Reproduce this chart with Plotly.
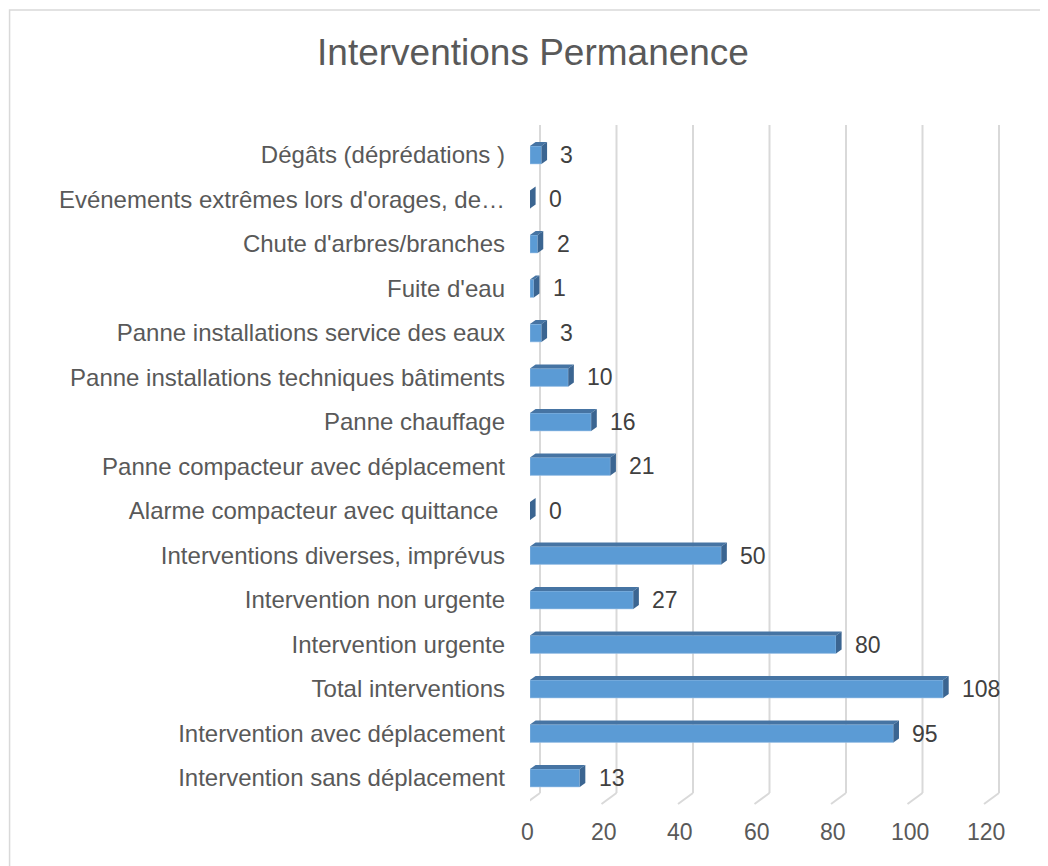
import plotly.graph_objects as go

categories = [
    "Dégâts (déprédations )",
    "Evénements extrêmes lors d'orages, de…",
    "Chute d'arbres/branches",
    "Fuite d'eau",
    "Panne installations service des eaux",
    "Panne installations techniques bâtiments",
    "Panne chauffage",
    "Panne compacteur avec déplacement",
    "Alarme compacteur avec quittance ",
    "Interventions diverses, imprévus",
    "Intervention non urgente",
    "Intervention urgente",
    "Total interventions",
    "Intervention avec déplacement",
    "Intervention sans déplacement",
]
values = [3, 0, 2, 1, 3, 10, 16, 21, 0, 50, 27, 80, 108, 95, 13]
x_ticks = [0, 20, 40, 60, 80, 100, 120]
title = "Interventions Permanence"

# page has an 8px body margin; figure covers the rest of the 1048x866 window
OFF = 8
W, H = 1048 - OFF, 866 - OFF


def px_x(p):
    return (p - OFF) / W


def px_y(p):
    return 1 - (p - OFF) / H


# plot area in window pixels
px_left = 530
ppu = (989 - 530) / 120          # pixels per x unit
xmax = 126                        # a bit of room for the back gridline at 120
px_right = px_left + xmax * ppu
px_top, px_bottom = 132.75, 800.25
ppc = (px_bottom - px_top) / len(categories)

ypos = list(range(len(categories)))
bar_w = 0.4
dx = 5.6 / ppu
dy = 4.0 / ppc

front = "#5b9bd5"
top_c = "#4674a3"
side_c = "#3b6591"
txt = "#404040"
font_family = "Liberation Sans, Arial, sans-serif"

fig = go.Figure()
fig.add_trace(go.Bar(
    y=ypos, x=values, orientation="h", width=bar_w,
    marker=dict(color=front, line=dict(color="#9dc3e6", width=0.6)),
    hoverinfo="x+text", hovertext=categories,
))

shapes = []
back_off = 10 / ppu
floor_off = -5 / ppu
y_grid_top = px_y(125)
y_grid_bot = px_y(793)
y_floor = px_y(804)
for t in x_ticks:
    shapes.append(dict(type="line", xref="x", yref="paper",
                       x0=t + back_off, x1=t + back_off, y0=y_grid_top, y1=y_grid_bot,
                       line=dict(color="#d9d9d9", width=2), layer="below"))
    shapes.append(dict(type="line", xref="x", yref="paper",
                       x0=t + back_off, x1=t + floor_off, y0=y_grid_bot, y1=y_floor,
                       line=dict(color="#d9d9d9", width=2), layer="below"))

for yc, v in zip(ypos, values):
    yt = yc - bar_w / 2
    yb = yc + bar_w / 2
    shapes.append(dict(type="path", xref="x", yref="y",
                       path=f"M0,{yt} L{v},{yt} L{v+dx},{yt-dy} L{dx},{yt-dy} Z",
                       fillcolor=top_c, line=dict(width=0), layer="above"))
    shapes.append(dict(type="path", xref="x", yref="y",
                       path=f"M{v},{yb} L{v},{yt} L{v+dx},{yt-dy} L{v+dx},{yb-dy} Z",
                       fillcolor=side_c, line=dict(width=0), layer="above"))

# outer chart border
shapes.append(dict(type="rect", xref="paper", yref="paper",
                   x0=0.0015, x1=1.01, y0=-0.01, y1=px_y(10),
                   line=dict(color="#d9d9d9", width=1.5), fillcolor="rgba(0,0,0,0)"))

annotations = []
for yc, v in zip(ypos, values):
    annotations.append(dict(x=v, y=yc, xref="x", yref="y", text=str(v),
                            xanchor="left", yanchor="middle", xshift=17, showarrow=False,
                            font=dict(size=23, color=txt, family=font_family)))
for t in x_ticks:
    annotations.append(dict(x=t, y=px_y(832), xref="x", yref="paper", text=str(t),
                            xanchor="center", yanchor="middle", xshift=-3, showarrow=False,
                            font=dict(size=23, color="#595959", family=font_family)))

fig.update_layout(
    width=W, height=H,
    margin=dict(l=0, r=0, t=0, b=0),
    paper_bgcolor="white", plot_bgcolor="white",
    showlegend=False,
    title=dict(text=title, x=px_x(533), xanchor="center", y=px_y(52), yanchor="middle",
               font=dict(size=37, color="#595959", family=font_family)),
    xaxis=dict(domain=[px_x(px_left), px_x(px_right)], range=[0, xmax],
               showgrid=False, zeroline=False, showticklabels=False, showline=False,
               fixedrange=True),
    yaxis=dict(domain=[px_y(px_bottom), px_y(px_top)],
               range=[len(categories) - 0.5, -0.5],
               tickmode="array", tickvals=ypos, ticktext=categories,
               showgrid=False, zeroline=False, showline=False, ticks="",
               ticklabelstandoff=24,
               tickfont=dict(size=24, color="#595959", family=font_family)),
    shapes=shapes,
    annotations=annotations,
    bargap=0.6,
)

fig.write_html("out.html")
